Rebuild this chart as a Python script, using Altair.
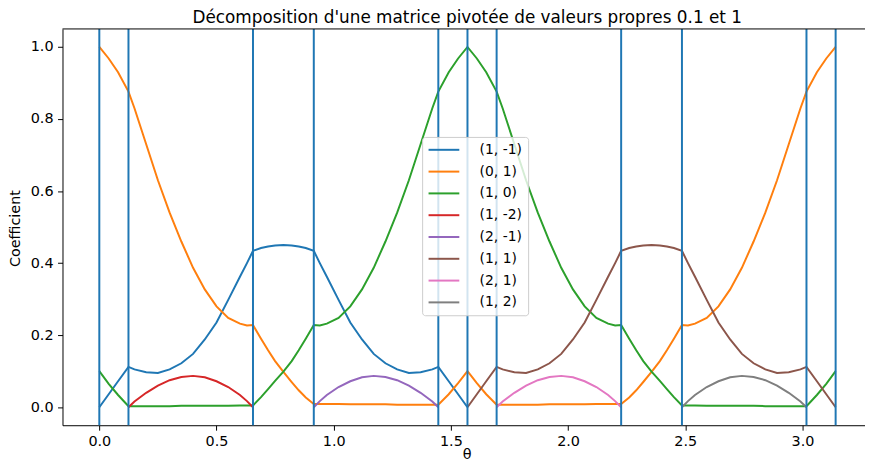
import altair as alt
import pandas as pd

# ---- data ----
TITLE = "Décomposition d'une matrice pivotée de valeurs propres 0.1 et 1"
SERIES = ["(1, -1)", "(0, 1)", "(1, 0)", "(1, -2)", "(2, -1)", "(1, 1)", "(2, 1)", "(1, 2)"]
COLORS = ["#1f77b4", "#ff7f0e", "#2ca02c", "#d62728", "#9467bd", "#8c564b", "#e377c2", "#7f7f7f"]

# vertical lines (breakpoints)
BREAKS = [0.0, 0.1244, 0.6557, 0.9151, 1.4464, 1.5708, 1.6952, 2.2265, 2.4859, 3.0172, 3.1416]

THETA_Q1 = [0.0, 0.04, 0.08, 0.1244, 0.15, 0.2, 0.25, 0.3, 0.35, 0.4, 0.45, 0.5, 0.55, 0.6, 0.63,
            0.6557, 0.69, 0.72, 0.75, 0.7854]
THETA_Q2 = [0.8208, 0.8508, 0.8808, 0.9151, 0.9408, 0.9708, 1.0208, 1.0708, 1.1208, 1.1708, 1.2208,
            1.2708, 1.3208, 1.3708, 1.4208, 1.4464, 1.4908, 1.5308, 1.5708]
THETA_Q3 = [1.6108, 1.6508, 1.6952, 1.7208, 1.7708, 1.8208, 1.8708, 1.9208, 1.9708, 2.0208, 2.0708,
            2.1208, 2.1708, 2.2008, 2.2265, 2.2608, 2.2908, 2.3208, 2.3562]
THETA_Q4 = [2.3916, 2.4216, 2.4516, 2.4859, 2.5116, 2.5416, 2.5916, 2.6416, 2.6916, 2.7416, 2.7916,
            2.8416, 2.8916, 2.9416, 2.9916, 3.0172, 3.0616, 3.1016, 3.1416]
THETA_ALL = THETA_Q1 + THETA_Q2 + THETA_Q3 + THETA_Q4

ORANGE_01 = [
    1.0, 0.968, 0.93, 0.876, 0.83, 0.73, 0.63, 0.54, 0.46, 0.387, 0.327, 0.28, 0.248, 0.232, 0.227,
    0.228, 0.19, 0.158, 0.128, 0.098,
    0.07, 0.047, 0.027, 0.009, 0.009, 0.009, 0.009, 0.008, 0.008, 0.008, 0.008, 0.007, 0.007, 0.007,
    0.007, 0.007, 0.036, 0.067, 0.1,
    0.067, 0.036, 0.007, 0.007, 0.007, 0.007, 0.007, 0.008, 0.008, 0.008, 0.008, 0.009, 0.009, 0.009,
    0.009, 0.027, 0.047, 0.07, 0.098,
    0.128, 0.158, 0.19, 0.228, 0.227, 0.232, 0.248, 0.28, 0.327, 0.387, 0.46, 0.54, 0.63, 0.73, 0.83,
    0.876, 0.93, 0.968, 1.0,
]
GREEN_10 = [
    0.1, 0.065, 0.034, 0.003, 0.003, 0.003, 0.003, 0.003, 0.004, 0.004, 0.004, 0.004, 0.004, 0.005,
    0.005, 0.005, 0.028, 0.05, 0.073, 0.099,
    0.128, 0.158, 0.19, 0.228, 0.227, 0.232, 0.248, 0.28, 0.327, 0.387, 0.46, 0.54, 0.63, 0.73, 0.83,
    0.876, 0.93, 0.968, 1.0,
    0.968, 0.93, 0.876, 0.83, 0.73, 0.63, 0.54, 0.46, 0.387, 0.327, 0.28, 0.248, 0.232, 0.227, 0.228,
    0.19, 0.158, 0.128, 0.099,
    0.073, 0.05, 0.028, 0.005, 0.005, 0.005, 0.004, 0.004, 0.004, 0.004, 0.004, 0.003, 0.003, 0.003,
    0.003, 0.003, 0.034, 0.065, 0.1,
]

THETA_BLUE = THETA_Q1 + THETA_Q2
BLUE_1M1 = [
    0.0, 0.036, 0.072, 0.112, 0.105, 0.097, 0.095, 0.105, 0.122, 0.148, 0.188, 0.235, 0.298, 0.362,
    0.40, 0.434, 0.442, 0.446, 0.449, 0.45,
    0.449, 0.446, 0.442, 0.434, 0.40, 0.362, 0.298, 0.235, 0.188, 0.148, 0.122, 0.105, 0.095, 0.097,
    0.105, 0.112, 0.072, 0.036, 0.0,
]
THETA_BROWN = [1.5708] + THETA_Q3 + THETA_Q4
BROWN_11 = [
    0.0, 0.036, 0.072, 0.112, 0.105, 0.097, 0.095, 0.105, 0.122, 0.148, 0.188, 0.235, 0.298, 0.362,
    0.40, 0.434, 0.442, 0.446, 0.449, 0.45,
    0.449, 0.446, 0.442, 0.434, 0.40, 0.362, 0.298, 0.235, 0.188, 0.148, 0.122, 0.105, 0.095, 0.097,
    0.105, 0.112, 0.072, 0.036, 0.0,
]

THETA_RED = [0.1244, 0.15, 0.2, 0.25, 0.3, 0.35, 0.4, 0.45, 0.5, 0.55, 0.6, 0.63, 0.6557]
RED_1M2 = [0.0, 0.016, 0.04, 0.06, 0.075, 0.084, 0.087, 0.083, 0.072, 0.056, 0.034, 0.017, 0.0]
THETA_PURPLE = [0.9151, 0.9408, 0.9708, 1.0208, 1.0708, 1.1208, 1.1708, 1.2208, 1.2708, 1.3208,
                1.3708, 1.4208, 1.4464]
PURPLE_2M1 = [0.0, 0.017, 0.034, 0.056, 0.072, 0.083, 0.087, 0.084, 0.075, 0.06, 0.04, 0.016, 0.0]
THETA_PINK = [1.6952, 1.7208, 1.7708, 1.8208, 1.8708, 1.9208, 1.9708, 2.0208, 2.0708, 2.1208,
              2.1708, 2.2008, 2.2265]
PINK_21 = [0.0, 0.016, 0.04, 0.06, 0.075, 0.084, 0.087, 0.083, 0.072, 0.056, 0.034, 0.017, 0.0]
THETA_GREY = [2.4859, 2.5116, 2.5416, 2.5916, 2.6416, 2.6916, 2.7416, 2.7916, 2.8416, 2.8916,
              2.9416, 2.9916, 3.0172]
GREY_12 = [0.0, 0.017, 0.034, 0.056, 0.072, 0.083, 0.087, 0.084, 0.075, 0.06, 0.04, 0.016, 0.0]

X_TICKS = [0.0, 0.5, 1.0, 1.5, 2.0, 2.5, 3.0]
Y_TICKS = [0.0, 0.2, 0.4, 0.6, 0.8, 1.0]

# ---- build long table ----
pairs = [
    (SERIES[0], THETA_BLUE, BLUE_1M1),
    (SERIES[1], THETA_ALL, ORANGE_01),
    (SERIES[2], THETA_ALL, GREEN_10),
    (SERIES[3], THETA_RED, RED_1M2),
    (SERIES[4], THETA_PURPLE, PURPLE_2M1),
    (SERIES[5], THETA_BROWN, BROWN_11),
    (SERIES[6], THETA_PINK, PINK_21),
    (SERIES[7], THETA_GREY, GREY_12),
]
rows = []
for k, (name, th, vals) in enumerate(pairs):
    for t, v in zip(th, vals):
        rows.append({"serie": name, "theta": t, "coef": v, "k": k})
df = pd.DataFrame(rows)
df_breaks = pd.DataFrame({"theta": BREAKS})

W, H = 810, 400
FONT = "DejaVu Sans"
xscale = alt.Scale(domain=[-0.1571, 3.2669], nice=False, zero=False)
yscale = alt.Scale(domain=[-0.05, 1.05], nice=False, zero=False)

lines = alt.Chart(df).mark_line(strokeWidth=2, clip=True).encode(
    x=alt.X("theta:Q", scale=xscale,
            axis=alt.Axis(values=X_TICKS, format=".1f", title="θ", titleX=408, titleY=30,
                          titleBaseline="middle", titleAlign="center")),
    y=alt.Y("coef:Q", scale=yscale,
            axis=alt.Axis(values=Y_TICKS, format=".1f", title="Coefficient", titleAngle=270,
                          titleX=-47, titleY=201, titleBaseline="middle", titleAlign="center")),
    color=alt.Color("serie:N", sort=SERIES,
                    scale=alt.Scale(domain=SERIES, range=COLORS),
                    legend=alt.Legend(title=None, orient="none", legendX=363, legendY=109,
                                      symbolType="M-3,0H3", symbolSize=107, symbolStrokeWidth=2,
                                      symbolOffset=9,
                                      labelFontSize=14, labelFont=FONT, labelColor="#000",
                                      labelOffset=29, rowPadding=8, padding=6,
                                      fillColor="rgba(255,255,255,0.8)", strokeColor="#cccccc",
                                      cornerRadius=3)),
    detail="k:N",
)

vrules = alt.Chart(df_breaks).mark_rule(color="#1f77b4", strokeWidth=2).encode(
    x=alt.X("theta:Q", scale=xscale)
)

top = alt.Chart(pd.DataFrame({"a": [0]})).mark_rule(color="#000", strokeWidth=1).encode(
    y=alt.value(0), x=alt.value(0), x2=alt.value(W)
)

title = alt.Chart(pd.DataFrame({"t": [TITLE]})).mark_text(
    font=FONT, fontSize=17, color="#000", align="center", baseline="alphabetic"
).encode(text="t:N", x=alt.value(408.5), y=alt.value(-5.5))

chart = alt.layer(lines, vrules, top, title).properties(
    width=W, height=H,
    autosize=alt.AutoSizeParams(type="none"),
    padding={"left": 55, "top": 19, "right": 0, "bottom": 38},
).configure_view(stroke=None).configure_axis(
    grid=False, labelFont=FONT, labelFontSize=14.5, labelColor="#000",
    titleFont=FONT, titleFontSize=14.5, titleFontWeight="normal", titleColor="#000",
    domainColor="#000", domainWidth=1, tickColor="#000", tickWidth=1, tickSize=5,
    labelPadding=4.5,
)

chart.save("out.html", embed_options={"renderer": "svg", "actions": False})
